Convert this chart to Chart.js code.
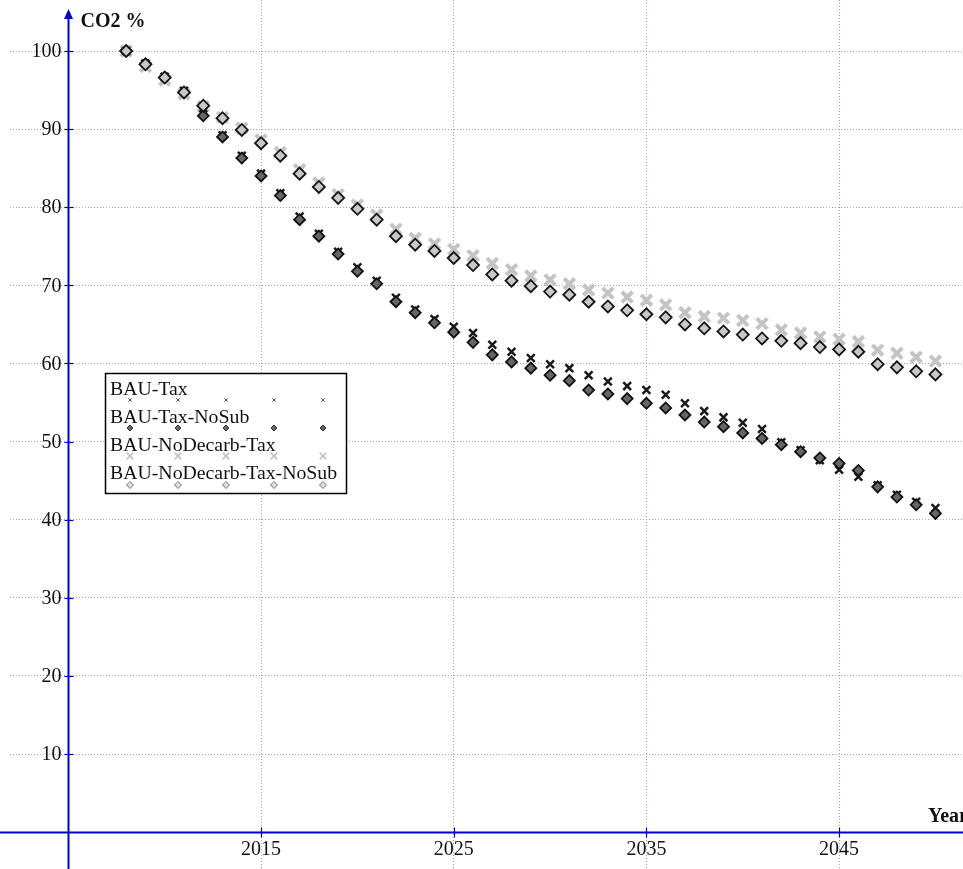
<!DOCTYPE html>
<html>
<head>
<meta charset="utf-8">
<script src="https://cdn.jsdelivr.net/npm/chart.js@4.4.0/dist/chart.umd.min.js"></script>
<style>
    html, body { margin: 0; padding: 0; background: #fff; }
    #wrap { width: 963px; height: 869px; }
</style>
</head>
<body>
<div id="wrap"><canvas id="co2-chart"></canvas></div>
<script>
const years = [2008, 2009, 2010, 2011, 2012, 2013, 2014, 2015, 2016, 2017, 2018, 2019, 2020, 2021, 2022,
    2023, 2024, 2025, 2026, 2027, 2028, 2029, 2030, 2031, 2032, 2033, 2034, 2035, 2036, 2037, 2038, 2039,
    2040, 2041, 2042, 2043, 2044, 2045, 2046, 2047, 2048, 2049, 2050];

const bauTax = [100.0, 98.4, 96.7, 94.9, 91.9, 89.2, 86.6, 84.3, 81.8, 78.8, 76.6, 74.3, 72.3, 70.6, 68.4,
    66.9, 65.7, 64.7, 63.9, 62.4, 61.5, 60.7, 59.9, 59.4, 58.5, 57.7, 57.1, 56.6, 56.0, 54.9, 53.9, 53.1,
    52.4, 51.6, 49.9, 48.9, 47.6, 46.4, 45.5, 44.4, 43.2, 42.3, 41.5];
const bauTaxNoSub = [100.0, 98.3, 96.6, 94.7, 91.7, 89.0, 86.3, 84.0, 81.5, 78.4, 76.3, 74.0, 71.8, 70.2, 67.9,
    66.5, 65.2, 64.0, 62.7, 61.1, 60.2, 59.4, 58.5, 57.8, 56.6, 56.1, 55.5, 54.9, 54.3, 53.4, 52.5, 51.9,
    51.1, 50.4, 49.6, 48.7, 47.9, 47.2, 46.3, 44.2, 42.9, 41.9, 40.8];
const bauNoDecarbTax = [100.0, 98.0, 96.3, 94.5, 92.9, 91.5, 90.1, 88.6, 87.0, 84.8, 83.1, 81.6, 80.3, 79.0, 77.2,
    76.0, 75.3, 74.6, 73.8, 72.8, 72.0, 71.2, 70.7, 70.2, 69.4, 69.0, 68.5, 68.1, 67.5, 66.5, 66.0, 65.8,
    65.5, 65.1, 64.3, 63.9, 63.4, 63.1, 62.8, 61.7, 61.3, 60.8, 60.3];
const bauNoDecarbTaxNoSub = [100.0, 98.3, 96.6, 94.7, 93.0, 91.4, 89.9, 88.2, 86.6, 84.3, 82.6, 81.2, 79.8, 78.4, 76.3,
    75.2, 74.4, 73.5, 72.6, 71.4, 70.6, 69.9, 69.2, 68.8, 67.9, 67.3, 66.8, 66.3, 65.9, 65.0, 64.5, 64.1,
    63.7, 63.2, 62.9, 62.6, 62.1, 61.8, 61.5, 59.9, 59.5, 59.0, 58.6];

const seriesNames = ['BAU-Tax', 'BAU-Tax-NoSub', 'BAU-NoDecarb-Tax', 'BAU-NoDecarb-Tax-NoSub'];
const xTickLabels = [2015, 2025, 2035, 2045];
const yTickLabels = [10, 20, 30, 40, 50, 60, 70, 80, 90, 100];
const xAxisTitle = 'Year';
const yAxisTitle = 'CO2 %';

const AXIS_BLUE = '#0000cc';
const GRID = 'rgba(150, 150, 205, 0.9)';
const SERIF = '"Liberation Serif", "Times New Roman", serif';

function toPoints(values) {
    return years.map((yr, i) => ({ x: yr, y: values[i] }));
}

// legend marker style for each series (smaller than in the plot)
const legendMarkers = [
    { pointStyle: 'crossRot', radius: 2.5, borderWidth: 1, fill: '#555', stroke: '#555' },
    { pointStyle: 'rectRot', radius: 3, borderWidth: 1, fill: '#666', stroke: '#333' },
    { pointStyle: 'crossRot', radius: 4.5, borderWidth: 1.5, fill: '#bbb', stroke: '#bbb' },
    { pointStyle: 'rectRot', radius: 3.5, borderWidth: 1, fill: '#ddd', stroke: '#777' },
];

const axesPlugin = {
    id: 'axesPlugin',
    beforeDatasetsDraw(chart) {
        const ctx = chart.ctx;
        const xs = chart.scales.x;
        const ys = chart.scales.y;
        const ox = Math.round(xs.getPixelForValue(2005)) + 0.5;
        const oy = Math.round(ys.getPixelForValue(0)) + 0.5;

        ctx.save();
        ctx.strokeStyle = AXIS_BLUE;
        ctx.fillStyle = AXIS_BLUE;
        ctx.lineWidth = 2;

        // x axis
        ctx.beginPath();
        ctx.moveTo(0, oy);
        ctx.lineTo(chart.width, oy);
        ctx.stroke();

        // y axis with arrow
        ctx.beginPath();
        ctx.moveTo(ox, chart.height);
        ctx.lineTo(ox, 18);
        ctx.stroke();
        ctx.beginPath();
        ctx.moveTo(ox, 9);
        ctx.lineTo(ox - 4.5, 19);
        ctx.lineTo(ox + 4.5, 19);
        ctx.closePath();
        ctx.fill();

        // tick marks
        ctx.lineWidth = 1.2;
        yTickLabels.forEach((v) => {
            const py = Math.round(ys.getPixelForValue(v)) + 0.5;
            ctx.beginPath();
            ctx.moveTo(ox - 4, py);
            ctx.lineTo(ox + 5, py);
            ctx.stroke();
        });
        xTickLabels.forEach((v) => {
            const px = Math.round(xs.getPixelForValue(v)) + 0.5;
            ctx.beginPath();
            ctx.moveTo(px, oy - 5);
            ctx.lineTo(px, oy + 5);
            ctx.stroke();
        });

        // tick labels
        ctx.fillStyle = '#111';
        ctx.font = '20px ' + SERIF;
        ctx.textAlign = 'right';
        ctx.textBaseline = 'middle';
        yTickLabels.forEach((v) => {
            ctx.fillText(String(v), ox - 7, ys.getPixelForValue(v) + 1);
        });
        ctx.textAlign = 'center';
        xTickLabels.forEach((v) => {
            ctx.fillText(String(v), xs.getPixelForValue(v), oy + 17);
        });

        // axis titles
        ctx.font = 'bold 20px ' + SERIF;
        ctx.textAlign = 'left';
        ctx.fillText(yAxisTitle, ox + 12, 22);
        ctx.fillText(xAxisTitle, 928, oy - 16);
        ctx.restore();
    },
    afterDraw(chart) {
        const ctx = chart.ctx;
        const left = 105.5, top = 373.5, w = 241, h = 120;
        ctx.save();
        ctx.fillStyle = '#fff';
        ctx.fillRect(left, top, w, h);
        ctx.strokeStyle = '#000';
        ctx.lineWidth = 1.5;
        ctx.strokeRect(left, top, w, h);

        ctx.font = '19.8px ' + SERIF;
        ctx.textAlign = 'left';
        ctx.textBaseline = 'alphabetic';
        const markerXs = [130, 178, 226, 274, 323];
        seriesNames.forEach((name, i) => {
            const base = 395 + i * 28;
            ctx.fillStyle = '#111';
            ctx.fillText(name, 110, base);
            const m = legendMarkers[i];
            markerXs.forEach((mx) => {
                ctx.fillStyle = m.fill;
                ctx.strokeStyle = m.stroke;
                ctx.lineWidth = m.borderWidth;
                Chart.helpers.drawPoint(ctx, {
                    pointStyle: m.pointStyle,
                    radius: m.radius,
                    borderWidth: m.borderWidth,
                    rotation: 0,
                }, mx, base + 5 + (i === 3 ? 1 : 0));
            });
        });
        ctx.restore();
    },
};

const ctx = document.getElementById('co2-chart');

new Chart(ctx, {
    type: 'scatter',
    data: {
        datasets: [
            {
                label: seriesNames[0],
                data: toPoints(bauTax),
                pointStyle: 'crossRot',
                pointRadius: 5.5,
                borderColor: '#1a1a1a',
                backgroundColor: '#1a1a1a',
                borderWidth: 2.5,
                order: 3,
            },
            {
                label: seriesNames[1],
                data: toPoints(bauTaxNoSub),
                pointStyle: 'rectRot',
                pointRadius: 5.5,
                borderColor: '#111',
                backgroundColor: '#666',
                borderWidth: 1.8,
                order: 2,
            },
            {
                label: seriesNames[2],
                data: toPoints(bauNoDecarbTax),
                pointStyle: 'crossRot',
                pointRadius: 7.5,
                borderColor: '#c4c4c4',
                backgroundColor: '#c4c4c4',
                borderWidth: 4,
                order: 4,
            },
            {
                label: seriesNames[3],
                data: toPoints(bauNoDecarbTaxNoSub),
                pointStyle: 'rectRot',
                pointRadius: 6,
                borderColor: '#151515',
                backgroundColor: '#c8c8c8',
                borderWidth: 1.8,
                order: 1,
            },
        ],
    },
    options: {
        animation: false,
        responsive: true,
        maintainAspectRatio: false,
        layout: { autoPadding: false, padding: { left: 10, top: 0, right: 0, bottom: 0 } },
        plugins: {
            legend: { display: false },
            tooltip: { enabled: false },
        },
        scales: {
            x: {
                type: 'linear',
                min: 2001.97,
                max: 2051.43,
                afterBuildTicks: (scale) => {
                    scale.ticks = xTickLabels.map((v) => ({ value: v }));
                },
                ticks: { display: false },
                grid: { color: GRID, lineWidth: 1, drawTicks: false },
                border: { display: false, dash: [1, 2] },
            },
            y: {
                type: 'linear',
                min: -4.72,
                max: 106.53,
                afterBuildTicks: (scale) => {
                    scale.ticks = yTickLabels.map((v) => ({ value: v }));
                },
                ticks: { display: false },
                grid: { color: GRID, lineWidth: 1, drawTicks: false },
                border: { display: false, dash: [1, 2] },
            },
        },
    },
    plugins: [axesPlugin],
});
</script>
</body>
</html>
